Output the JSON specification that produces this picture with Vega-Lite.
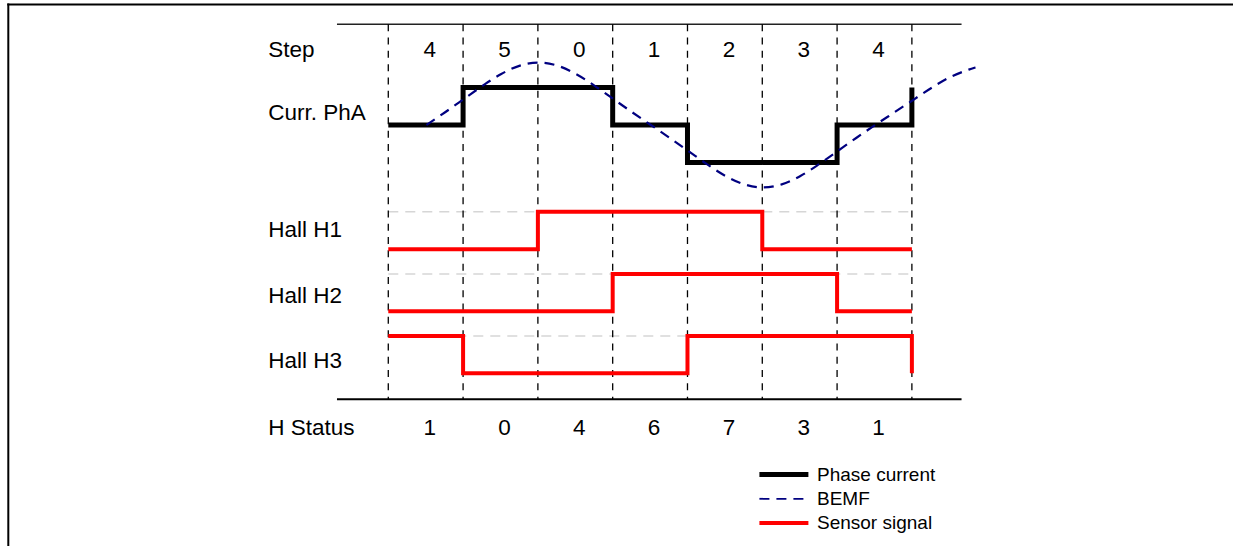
{
  "$schema": "https://vega.github.io/schema/vega-lite/v6.json",
  "width": 1233,
  "height": 546,
  "padding": 0,
  "autosize": {"type": "none"},
  "background": "white",
  "config": {
    "view": {"stroke": null},
    "text": {"font": "Liberation Sans", "fontSize": 22.5, "color": "#000000"},
    "legend": {
      "orient": "none",
      "legendX": 794,
      "legendY": 465,
      "symbolType": "M-9,0H1",
      "symbolSize": 96,
      "labelFont": "Liberation Sans",
      "labelFontSize": 19,
      "labelColor": "#000000",
      "labelOffset": 4,
      "rowPadding": 4.3,
      "padding": 0
    }
  },
  "datasets": {
    "bounds": [{"t": 0}, {"t": 1}, {"t": 2}, {"t": 3}, {"t": 4}, {"t": 5}, {"t": 6}, {"t": 7}],
    "steps": [
      {"t": 0.5, "step": 4, "hs": 1},
      {"t": 1.5, "step": 5, "hs": 0},
      {"t": 2.5, "step": 0, "hs": 4},
      {"t": 3.5, "step": 1, "hs": 6},
      {"t": 4.5, "step": 2, "hs": 7},
      {"t": 5.5, "step": 3, "hs": 3},
      {"t": 6.5, "step": 4, "hs": 1}
    ],
    "phase": [
      {"series": "Phase current", "t": 0, "v": 0},
      {"series": "Phase current", "t": 1, "v": 1},
      {"series": "Phase current", "t": 3, "v": 0},
      {"series": "Phase current", "t": 4, "v": -1},
      {"series": "Phase current", "t": 6, "v": 0},
      {"series": "Phase current", "t": 7, "v": 1}
    ],
    "bemf": [
      {"series": "BEMF", "t": 0.51, "v": 0},
      {"series": "BEMF", "t": 0.76, "v": 0.341},
      {"series": "BEMF", "t": 1.01, "v": 0.693},
      {"series": "BEMF", "t": 1.26, "v": 1.047},
      {"series": "BEMF", "t": 1.51, "v": 1.364},
      {"series": "BEMF", "t": 1.76, "v": 1.588},
      {"series": "BEMF", "t": 2.01, "v": 1.67},
      {"series": "BEMF", "t": 2.26, "v": 1.588},
      {"series": "BEMF", "t": 2.51, "v": 1.364},
      {"series": "BEMF", "t": 2.76, "v": 1.047},
      {"series": "BEMF", "t": 3.01, "v": 0.693},
      {"series": "BEMF", "t": 3.26, "v": 0.341},
      {"series": "BEMF", "t": 3.51, "v": 0},
      {"series": "BEMF", "t": 3.76, "v": -0.341},
      {"series": "BEMF", "t": 4.01, "v": -0.693},
      {"series": "BEMF", "t": 4.26, "v": -1.047},
      {"series": "BEMF", "t": 4.51, "v": -1.364},
      {"series": "BEMF", "t": 4.76, "v": -1.588},
      {"series": "BEMF", "t": 5.01, "v": -1.67},
      {"series": "BEMF", "t": 5.26, "v": -1.588},
      {"series": "BEMF", "t": 5.51, "v": -1.364},
      {"series": "BEMF", "t": 5.76, "v": -1.047},
      {"series": "BEMF", "t": 6.01, "v": -0.693},
      {"series": "BEMF", "t": 6.26, "v": -0.341},
      {"series": "BEMF", "t": 6.51, "v": 0},
      {"series": "BEMF", "t": 6.76, "v": 0.33},
      {"series": "BEMF", "t": 7.01, "v": 0.66},
      {"series": "BEMF", "t": 7.26, "v": 0.99},
      {"series": "BEMF", "t": 7.51, "v": 1.28},
      {"series": "BEMF", "t": 7.76, "v": 1.48},
      {"series": "BEMF", "t": 7.85, "v": 1.54}
    ],
    "hall": [
      {"series": "Sensor signal", "signal": "H1", "t": 0, "v": -3.324},
      {"series": "Sensor signal", "signal": "H1", "t": 2, "v": -2.318},
      {"series": "Sensor signal", "signal": "H1", "t": 5, "v": -3.324},
      {"series": "Sensor signal", "signal": "H1", "t": 7, "v": -3.324},
      {"series": "Sensor signal", "signal": "H2", "t": 0, "v": -4.981},
      {"series": "Sensor signal", "signal": "H2", "t": 3, "v": -3.984},
      {"series": "Sensor signal", "signal": "H2", "t": 6, "v": -4.981},
      {"series": "Sensor signal", "signal": "H2", "t": 7, "v": -4.981},
      {"series": "Sensor signal", "signal": "H3", "t": 0, "v": -5.642},
      {"series": "Sensor signal", "signal": "H3", "t": 1, "v": -6.639},
      {"series": "Sensor signal", "signal": "H3", "t": 4, "v": -5.642},
      {"series": "Sensor signal", "signal": "H3", "t": 7, "v": -6.639}
    ],
    "highs": [
      {"signal": "H1", "high": -2.318},
      {"signal": "H2", "high": -3.984},
      {"signal": "H3", "high": -5.642}
    ],
    "one": [{}]
  },
  "layer": [
    {
      "data": {"name": "one"},
      "mark": {"type": "rule", "color": "#000000", "strokeWidth": 2},
      "encoding": {
        "x": {"datum": -5.094, "type": "quantitative", "scale": {"domain": [-5.191, 11.293], "nice": false, "zero": false}, "axis": null},
        "x2": {"datum": 11.293},
        "y": {"datum": 3.222, "type": "quantitative", "scale": {"domain": [-11.257, 3.342], "nice": false, "zero": false}, "axis": null}
      }
    },
    {
      "data": {"name": "one"},
      "mark": {"type": "rule", "color": "#000000", "strokeWidth": 2},
      "encoding": {
        "x": {"datum": -5.08, "type": "quantitative", "axis": null},
        "y": {"datum": 3.25, "type": "quantitative", "axis": null},
        "y2": {"datum": -11.257}
      }
    },
    {
      "data": {"name": "one"},
      "mark": {"type": "rule", "color": "#222222", "strokeWidth": 1.5},
      "encoding": {
        "x": {"datum": -0.686, "type": "quantitative", "axis": null},
        "x2": {"datum": 7.664},
        "y": {"datum": 2.693, "type": "quantitative", "axis": null}
      }
    },
    {
      "data": {"name": "one"},
      "mark": {"type": "rule", "color": "#000000", "strokeWidth": 2},
      "encoding": {
        "x": {"datum": -0.686, "type": "quantitative", "axis": null},
        "x2": {"datum": 7.664},
        "y": {"datum": -7.334, "type": "quantitative", "axis": null}
      }
    },
    {
      "data": {"name": "highs"},
      "mark": {"type": "rule", "color": "#d6d6d6", "strokeWidth": 1.5, "strokeDash": [10, 7]},
      "encoding": {
        "x": {"datum": 0, "type": "quantitative", "axis": null},
        "x2": {"datum": 7},
        "y": {"field": "high", "type": "quantitative", "axis": null}
      }
    },
    {
      "data": {"name": "bounds"},
      "mark": {"type": "rule", "color": "#000000", "strokeWidth": 1.3, "strokeDash": [7, 6.3]},
      "encoding": {
        "x": {"field": "t", "type": "quantitative", "axis": null},
        "y": {"datum": 2.693, "type": "quantitative", "axis": null},
        "y2": {"datum": -7.334}
      }
    },
    {
      "data": {"name": "phase"},
      "mark": {"type": "line", "interpolate": "step-after", "strokeWidth": 5},
      "encoding": {
        "x": {"field": "t", "type": "quantitative", "axis": null},
        "y": {"field": "v", "type": "quantitative", "axis": null},
        "color": {"field": "series", "type": "nominal", "scale": {"domain": ["Phase current", "BEMF", "Sensor signal"], "range": ["#000000", "#000080", "#ff0000"]}, "legend": {"title": null, "encode": {"symbols": {"update": {"strokeWidth": {"signal": "datum.value === 'Phase current' ? 5 : datum.value === 'BEMF' ? 1.8 : 4"}}}}}},
        "strokeDash": {"field": "series", "type": "nominal", "scale": {"domain": ["Phase current", "BEMF", "Sensor signal"], "range": [[1, 0], [10, 7], [1, 0]]}, "legend": {"title": null, "encode": {"symbols": {"update": {"strokeWidth": {"signal": "datum.value === 'Phase current' ? 5 : datum.value === 'BEMF' ? 1.8 : 4"}}}}}}
      }
    },
    {
      "data": {"name": "hall"},
      "mark": {"type": "line", "interpolate": "step-after", "strokeWidth": 4},
      "encoding": {
        "x": {"field": "t", "type": "quantitative", "axis": null},
        "y": {"field": "v", "type": "quantitative", "axis": null},
        "detail": {"field": "signal", "type": "nominal"},
        "color": {"field": "series", "type": "nominal"},
        "strokeDash": {"field": "series", "type": "nominal"}
      }
    },
    {
      "data": {"name": "bemf"},
      "mark": {"type": "line", "interpolate": "monotone", "strokeWidth": 2.2},
      "encoding": {
        "x": {"field": "t", "type": "quantitative", "axis": null},
        "y": {"field": "v", "type": "quantitative", "axis": null},
        "color": {"field": "series", "type": "nominal"},
        "strokeDash": {"field": "series", "type": "nominal"}
      }
    },
    {
      "data": {"name": "steps"},
      "mark": {"type": "text", "align": "center", "baseline": "alphabetic", "dx": 4},
      "encoding": {
        "x": {"field": "t", "type": "quantitative", "axis": null},
        "y": {"datum": 1.826, "type": "quantitative", "axis": null},
        "text": {"field": "step", "type": "nominal"}
      }
    },
    {
      "data": {"name": "steps"},
      "mark": {"type": "text", "align": "center", "baseline": "alphabetic", "dx": 4},
      "encoding": {
        "x": {"field": "t", "type": "quantitative", "axis": null},
        "y": {"datum": -8.289, "type": "quantitative", "axis": null},
        "text": {"field": "hs", "type": "nominal"}
      }
    },
    {
      "data": {"name": "one"},
      "mark": {"type": "text", "align": "left", "baseline": "alphabetic", "text": "Step"},
      "encoding": {
        "x": {"datum": -1.604, "type": "quantitative", "axis": null},
        "y": {"datum": 1.826, "type": "quantitative", "axis": null}
      }
    },
    {
      "data": {"name": "one"},
      "mark": {"type": "text", "align": "left", "baseline": "alphabetic", "text": "Curr. PhA"},
      "encoding": {
        "x": {"datum": -1.604, "type": "quantitative", "axis": null},
        "y": {"datum": 0.134, "type": "quantitative", "axis": null}
      }
    },
    {
      "data": {"name": "one"},
      "mark": {"type": "text", "align": "left", "baseline": "alphabetic", "text": "Hall H1"},
      "encoding": {
        "x": {"datum": -1.604, "type": "quantitative", "axis": null},
        "y": {"datum": -2.987, "type": "quantitative", "axis": null}
      }
    },
    {
      "data": {"name": "one"},
      "mark": {"type": "text", "align": "left", "baseline": "alphabetic", "text": "Hall H2"},
      "encoding": {
        "x": {"datum": -1.604, "type": "quantitative", "axis": null},
        "y": {"datum": -4.751, "type": "quantitative", "axis": null}
      }
    },
    {
      "data": {"name": "one"},
      "mark": {"type": "text", "align": "left", "baseline": "alphabetic", "text": "Hall H3"},
      "encoding": {
        "x": {"datum": -1.604, "type": "quantitative", "axis": null},
        "y": {"datum": -6.505, "type": "quantitative", "axis": null}
      }
    },
    {
      "data": {"name": "one"},
      "mark": {"type": "text", "align": "left", "baseline": "alphabetic", "text": "H Status"},
      "encoding": {
        "x": {"datum": -1.604, "type": "quantitative", "axis": null},
        "y": {"datum": -8.289, "type": "quantitative", "axis": null}
      }
    }
  ]
}
